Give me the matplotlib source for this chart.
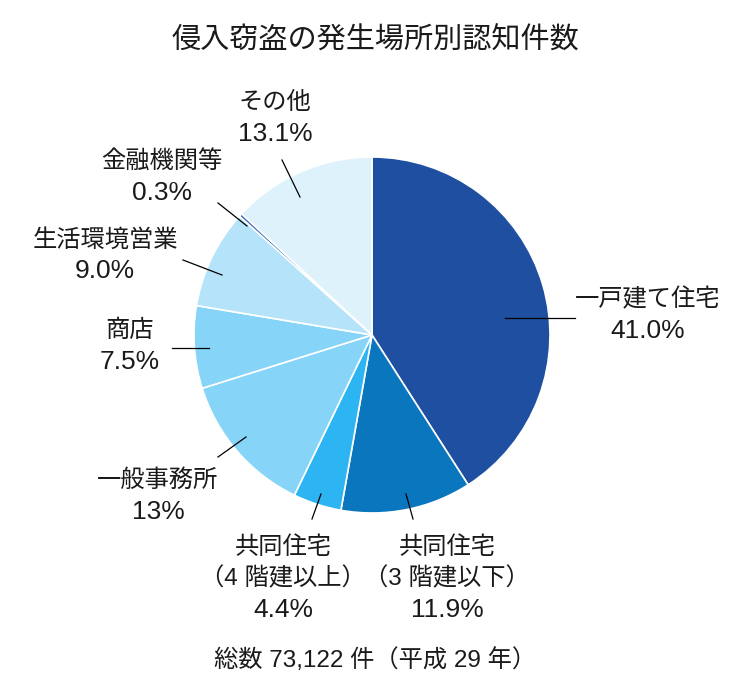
"""Pie chart: 侵入窃盗の発生場所別認知件数 (平成29年)."""

import matplotlib

matplotlib.use('Agg')
import matplotlib.pyplot as plt

plt.rcParams['font.family'] = ['Liberation Sans', 'Noto Sans CJK JP', 'DejaVu Sans']

TITLE = '侵入窃盗の発生場所別認知件数'
FOOTNOTE = '総数 73,122 件（平成 29 年）'

# slices, clockwise from 12 o'clock
CATEGORIES = [
    '一戸建て住宅',
    '共同住宅\n（3 階建以下）',
    '共同住宅\n（4 階建以上）',
    '一般事務所',
    '商店',
    '生活環境営業',
    '金融機関等',
    'その他',
]
SHARES = [41.0, 11.9, 4.4, 13.0, 7.5, 9.0, 0.3, 13.1]
SHARE_LABELS = ['41.0%', '11.9%', '4.4%', '13%', '7.5%', '9.0%', '0.3%', '13.1%']

COLORS = ['#1f4fa0', '#0a76bd', '#2cb5f2', '#86d4f8',
          '#86d4f8', '#b5e4fa', '#3f6cc4', '#def2fc']

# layout in image pixels (x, y from top): label centre of first line,
# leader line start / end
W, H = 750, 700
CENTER = (372, 335)
RADIUS = 178
LABEL_POS = [(648, 300), (447, 548), (283, 548), (158, 481),
             (130, 331), (105, 240), (162, 162), (275, 103)]
LEADERS = [((505, 318), (575, 318)),
           ((406, 494), (413, 519)),
           ((321, 494), (312, 519)),
           ((246, 437), (218, 457)),
           ((209, 348), (172, 348)),
           ((222, 275), (183, 260)),
           ((247, 226), (218, 203)),
           ((300, 197), (282, 160))]
LINE_STEP = 31
FS = 17.5
FS_PCT = 19


def fy(y):
    return H - y


def main():
    fig = plt.figure(figsize=(W / 100, H / 100), dpi=100)
    ax = fig.add_axes([0, 0, 1, 1])

    ax.pie(SHARES, colors=COLORS, startangle=90, counterclock=False,
           center=(CENTER[0], fy(CENTER[1])), radius=RADIUS,
           wedgeprops=dict(edgecolor='white', linewidth=1.2),
           frame=True)
    ax.set_xlim(0, W)
    ax.set_ylim(0, H)
    ax.axis('off')

    for cat, pct, (lx, ly), (p0, p1) in zip(CATEGORIES, SHARE_LABELS,
                                             LABEL_POS, LEADERS):
        lines = cat.split('\n')
        for i, line in enumerate(lines):
            ax.text(lx, fy(ly + i * LINE_STEP), line, fontsize=FS,
                    ha='center', va='center', color='#1a1a1a')
        ax.text(lx, fy(ly + len(lines) * LINE_STEP), pct, fontsize=FS_PCT,
                ha='center', va='center', color='#1a1a1a')
        ax.plot([p0[0], p1[0]], [fy(p0[1]), fy(p1[1])],
                color='black', linewidth=0.9)

    ax.text(W / 2, fy(41), TITLE, fontsize=21, ha='center', va='center',
            color='#1a1a1a')
    ax.text(375, fy(660), FOOTNOTE, fontsize=FS, ha='center', va='center',
            color='#1a1a1a')

    fig.savefig('out.png', dpi=100, facecolor='white')


if __name__ == '__main__':
    main()
